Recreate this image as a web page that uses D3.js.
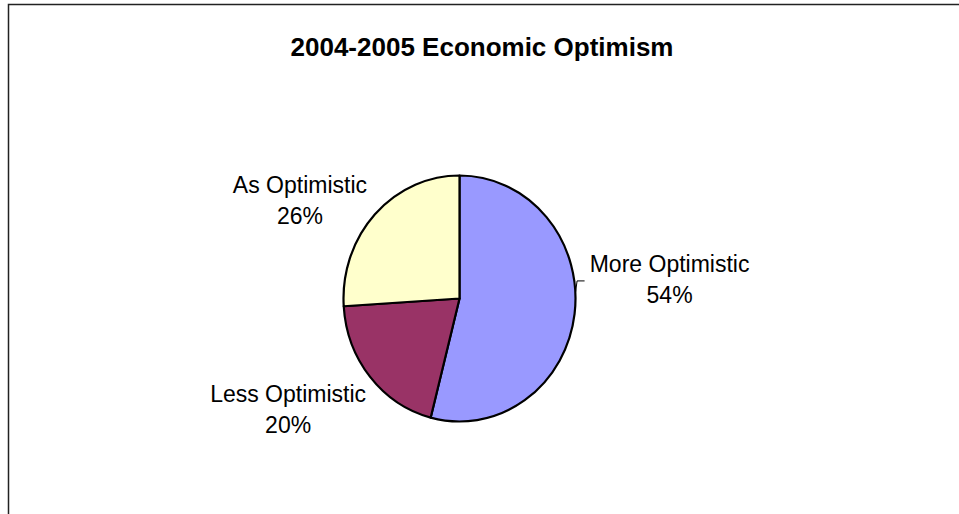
<!DOCTYPE html>
<html>
<head>
<meta charset="utf-8">
<script src="https://cdn.jsdelivr.net/npm/d3@7"></script>
<style>
  html, body { margin: 0; padding: 0; background: #fff; }
  svg { display: block; font-family: "Liberation Sans", Arial, sans-serif; }
</style>
</head>
<body>
<svg></svg>
<script>
// data
const categories = ['More Optimistic', 'Less Optimistic', 'As Optimistic']
const values = [54, 20, 26]
const percentLabels = ['54%', '20%', '26%']
const colors = ['#9999FF', '#993366', '#FFFFCC']
const title = '2004-2005 Economic Optimism'

const width = 959
const height = 514
const cx = 459.5
const cy = 298.5
const rx = 116
const ry = 123

let svg = d3.select('svg')
    .attr('width', width)
    .attr('height', height)

// chart area border (runs off the right and bottom edges)
svg.append('rect')
    .attr('x', 8.5)
    .attr('y', 4.5)
    .attr('width', 980)
    .attr('height', 540)
    .attr('fill', 'none')
    .attr('stroke', '#222')
    .attr('stroke-width', 1.5)

svg.append('text')
    .attr('x', 482)
    .attr('y', 56)
    .attr('text-anchor', 'middle')
    .attr('font-size', 26)
    .attr('font-weight', 'bold')
    .text(title)

let pie = d3.pie().sort(null)
let arcs = pie(values)
let arc = d3.arc().innerRadius(0).outerRadius(rx)

let g = svg.append('g')
    .attr('transform', `translate(${cx},${cy}) scale(1,${ry / rx})`)

g.selectAll('path')
    .data(arcs)
    .enter()
    .append('path')
    .attr('d', arc)
    .attr('fill', (d, i) => colors[i])
    .attr('stroke', '#000')
    .attr('stroke-width', 2.2)
    .attr('vector-effect', 'non-scaling-stroke')
    .attr('stroke-linejoin', 'round')

// point on the pie edge at a slice's middle angle
function edgePoint(d) {
    let a = (d.startAngle + d.endAngle) / 2
    return [cx + Math.sin(a) * rx, cy - Math.cos(a) * ry]
}

// label placement relative to the edge point (Excel-style outside labels)
const labelLayout = [
    { dx: 95, dy: -42, anchor: 'middle' },
    { dx: -82, dy: 25, anchor: 'middle' },
    { dx: -75, dy: -21, anchor: 'middle' }
]

let labels = svg.selectAll('.label')
    .data(arcs)
    .enter()
    .append('text')
    .attr('class', 'label')
    .attr('font-size', 23)
    .attr('fill', '#000')
    .attr('text-anchor', (d, i) => labelLayout[i].anchor)
    .each(function (d, i) {
        let [px, py] = edgePoint(d)
        let x = px + labelLayout[i].dx
        let y = py + labelLayout[i].dy
        let t = d3.select(this)
        t.append('tspan').attr('x', x).attr('y', y).text(categories[i])
        t.append('tspan').attr('x', x).attr('y', y + 31).text(percentLabels[i])
    })

// short leader line for the first label
let p0 = edgePoint(arcs[0])
svg.append('path')
    .attr('d', d3.line()([[p0[0] + 10, p0[1] - 33], [p0[0] + 2.5, p0[1] - 33], [p0[0] + 1, p0[1] - 22]]))
    .attr('fill', 'none')
    .attr('stroke', '#000')
    .attr('stroke-width', 1)
</script>
</body>
</html>
